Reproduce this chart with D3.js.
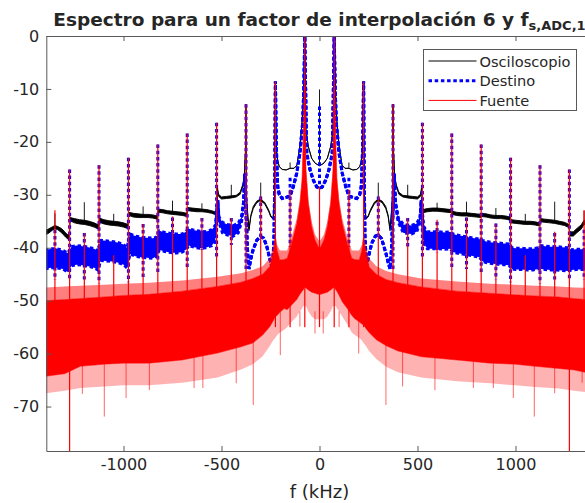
<!DOCTYPE html>
<html lang="es"><head>
<meta charset="utf-8">
<title>Espectro</title>
<script src="https://cdn.jsdelivr.net/npm/d3@7"></script>
<style>
body{margin:0;background:#fff;}
text{font-family:"DejaVu Sans",sans-serif;fill:#262626;}
.axis path,.axis line{stroke:#595959;stroke-width:1;}
</style>
</head>
<body>
<script>

var width = 585;
var height = 503;

var xTicks = [-1000, -500, 0, 500, 1000];
var yTicks = [0, -10, -20, -30, -40, -50, -60, -70];
var seriesNames = ["Osciloscopio", "Destino", "Fuente"];

// Osciloscopio: floor of the trace, [kHz, upper dB, lower dB]
var oscFloor = [
[-1400,-36.8,-37.6],[-1380,-36.4,-37.2],[-1360,-36.0,-36.6],[-1350,-35.8,-36.4],[-1335,-36.0,-36.6],[-1315,-36.4,-37.2],[-1295,-37.2,-38.0],[-1277,-37.8,-38.6],
[-1273,-34.3,-34.9],[-1250,-34.5,-35.3],[-1225,-34.7,-35.5],[-1200,-34.8,-35.6],[-1175,-35.0,-35.8],[-1150,-35.3,-36.1],[-1127,-35.7,-36.5],
[-1123,-34.4,-35.2],[-1100,-34.7,-35.5],[-1075,-34.9,-35.7],[-1050,-35.0,-35.8],[-1025,-35.1,-35.9],[-1000,-35.3,-36.1],[-977,-35.6,-36.4],
[-973,-33.3,-33.9],[-950,-33.5,-34.2],[-925,-33.6,-34.3],[-900,-33.7,-34.3],[-875,-33.7,-34.3],[-850,-33.8,-34.4],[-827,-34.0,-34.6],
[-823,-32.7,-33.3],[-800,-32.8,-33.4],[-775,-33.0,-33.6],[-750,-33.1,-33.7],[-725,-33.2,-33.8],[-700,-33.3,-33.9],[-677,-33.5,-34.1],
[-673,-32.4,-33.0],[-650,-32.5,-33.1],[-625,-32.6,-33.2],[-600,-32.7,-33.2],[-575,-32.8,-33.3],[-550,-33.0,-33.5],[-527,-33.3,-33.8],
[-521,-28.6,-29.0],[-515,-29.9,-30.3],[-500,-30.4,-30.8],[-475,-30.3,-30.7],[-450,-30.2,-30.6],[-425,-30.1,-30.4],[-405,-29.5,-29.9],[-392,-28.1,-28.5],[-384,-26.6,-26.8],[-378,-22.0,-22.0],[-375,-12.9,-12.9],
[-372,-30.8,-31.2],[-360,-36.4,-36.8],[-350,-33.8,-34.1],[-338,-32.2,-32.6],[-320,-31.2,-31.5],[-302,-30.8,-31.1],[-280,-31.4,-31.7],[-260,-32.8,-33.1],[-248,-34.0,-34.2],[-237,-34.4,-34.6],[-229,-31.0,-31.0],[-225,-8.6,-8.6],
[-221,-19.5,-19.5],[-218,-22.1,-22.1],[-212,-23.8,-23.8],[-205,-24.7,-24.7],[-190,-25.2,-25.2],[-170,-25.3,-25.3],[-150,-25.0,-25.0],[-130,-25.0,-25.0],[-115,-24.4,-24.4],[-100,-20.8,-20.8],[-90,-16.8,-16.8],[-83,-12.5,-12.5],[-79,-6.0,-6.0],[-75,0,0],
[-71,-14.0,-14.0],[-69,-17.8,-17.8],[-57,-20.9,-20.9],[-40,-23.1,-23.1],[-23,-24.0,-24.0],[-6,-24.4,-24.4],[0,-24.5,-24.5],[6,-24.4,-24.4],[23,-24.0,-24.0],[40,-23.1,-23.1],[57,-20.9,-20.9],[69,-17.8,-17.8],[71,-14.0,-14.0],[75,0,0],
[79,-6.0,-6.0],[83,-12.5,-12.5],[90,-16.8,-16.8],[100,-20.8,-20.8],[115,-24.4,-24.4],[130,-25.0,-25.0],[150,-25.0,-25.0],[170,-25.3,-25.3],[190,-25.2,-25.2],[205,-24.7,-24.7],[212,-23.8,-23.8],[218,-22.1,-22.1],[221,-19.5,-19.5],[225,-8.6,-8.6],
[229,-31.0,-31.0],[237,-34.4,-34.6],[248,-34.0,-34.2],[260,-32.8,-33.1],[280,-31.4,-31.7],[300,-30.8,-31.1],[320,-31.2,-31.5],[338,-32.2,-32.6],[350,-33.8,-34.1],[360,-36.4,-36.8],[372,-30.8,-31.2],[375,-12.9,-12.9],
[378,-22.0,-22.0],[384,-26.6,-26.8],[392,-28.1,-28.5],[405,-29.5,-29.9],[425,-30.1,-30.4],[450,-30.2,-30.6],[475,-30.3,-30.7],[500,-30.4,-30.8],[515,-29.9,-30.3],[521,-28.6,-29.0],
[527,-32.8,-33.4],[550,-32.6,-33.2],[575,-32.5,-33.1],[600,-32.5,-33.1],[625,-32.6,-33.2],[650,-32.7,-33.3],[673,-32.8,-33.4],
[677,-33.1,-33.7],[700,-33.3,-33.9],[725,-33.4,-34.0],[750,-33.4,-34.0],[775,-33.5,-34.1],[800,-33.6,-34.2],[823,-33.7,-34.3],
[827,-33.5,-34.1],[850,-33.6,-34.2],[875,-33.8,-34.4],[900,-33.9,-34.5],[925,-33.9,-34.5],[950,-34.0,-34.6],[973,-34.2,-34.8],
[977,-34.7,-35.3],[1000,-34.8,-35.4],[1025,-34.9,-35.5],[1050,-35.0,-35.6],[1075,-35.0,-35.6],[1100,-35.1,-35.7],[1123,-35.3,-35.9],
[1127,-34.5,-35.1],[1150,-34.6,-35.2],[1175,-34.7,-35.3],[1200,-34.8,-35.4],[1225,-35.0,-35.6],[1250,-35.2,-35.8],[1273,-35.6,-36.2],
[1277,-37.0,-37.8],[1295,-37.0,-37.8],[1315,-36.3,-37.1],[1335,-35.7,-36.5],[1350,-34.8,-35.6],[1370,-35.0,-35.8],[1400,-35.4,-36.2]
];
var oscSpikeF    = [-1350,-1200,-1050,-900,-750,-600,-450,-300,-150,0,150,300,450,600,750,900,1050,1200,1350];
var oscSpikeTop  = [-33.5,-31.4,-33.6,-32.2,-31.1,-31.6,-28.1,-27.7,-23.9,-10.1,-23.9,-27.7,-28.1,-31.5,-31.3,-32.5,-33.6,-31.3,-33.0];
var oscSpikeBase = [-36.2,-35.4,-35.6,-34.2,-33.6,-33.0,-30.5,-31.0,-25.0,-24.5,-25.0,-31.0,-30.5,-33.0,-33.9,-34.4,-35.5,-35.3,-35.4];

// Destino: [kHz, upper dB, lower dB]
var destFloor = [
[-1400,-40.5,-44.0],[-1370,-40.2,-43.8],[-1340,-40.2,-43.8],[-1310,-40.5,-44.0],[-1285,-41.0,-44.6],
[-1265,-39.8,-43.4],[-1240,-39.6,-43.2],[-1210,-39.7,-43.3],[-1180,-39.9,-43.5],[-1150,-40.2,-43.8],[-1130,-40.6,-44.2],
[-1117,-38.6,-42.4],[-1090,-38.7,-42.5],[-1060,-38.8,-42.6],[-1030,-39.0,-42.8],[-1000,-39.4,-43.2],[-982,-40.0,-43.8],
[-967,-37.4,-41.2],[-940,-37.8,-41.6],[-910,-38.0,-41.8],[-880,-38.1,-41.9],[-850,-38.2,-42.0],[-832,-38.0,-41.6],
[-817,-36.8,-40.4],[-790,-37.1,-40.7],[-760,-37.3,-40.9],[-730,-37.4,-41.0],[-700,-37.4,-40.8],[-682,-37.0,-40.4],
[-667,-36.4,-39.6],[-640,-36.7,-39.9],[-610,-36.9,-40.1],[-580,-37.0,-40.0],[-550,-36.6,-39.6],[-532,-35.8,-38.8],
[-519,-31.0,-31.0],[-513,-34.2,-35.2],[-495,-35.2,-37.2],[-470,-35.6,-37.6],[-440,-35.8,-37.8],[-415,-35.4,-37.2],[-398,-34.2,-35.2],[-388,-31.6,-31.6],[-381,-26.0,-26.0],
[-368,-40.0,-40.0],[-360,-44.0,-44.0],[-350,-42.0,-42.0],[-339,-40.4,-40.4],[-320,-38.6,-38.6],[-302,-37.9,-37.9],[-285,-38.2,-38.2],[-270,-39.6,-39.6],[-252,-42.3,-42.3],[-240,-44.2,-44.2],[-232,-38.0,-38.0],[-228,-26.0,-26.0],[-225,-8.6,-8.6],
[-221,-19.0,-19.0],[-218,-24.0,-24.0],[-213,-28.5,-28.5],[-205,-30.0,-30.0],[-190,-30.7,-30.7],[-170,-30.5,-30.5],[-150,-30.2,-30.2],[-134,-28.5,-28.5],[-116,-25.9,-25.9],[-100,-22.2,-22.2],[-86,-16.5,-16.5],[-80,-10.0,-10.0],[-75,0,0],
[-70,-12.0,-12.0],[-65,-22.2,-22.2],[-48,-25.3,-25.3],[-32,-27.2,-27.2],[-14,-28.5,-28.5],[0,-28.8,-28.8],[14,-28.5,-28.5],[32,-27.2,-27.2],[48,-25.3,-25.3],[65,-22.2,-22.2],[70,-12.0,-12.0],[75,0,0],
[80,-10.0,-10.0],[86,-16.5,-16.5],[100,-22.2,-22.2],[116,-25.9,-25.9],[134,-28.5,-28.5],[150,-30.2,-30.2],[170,-30.5,-30.5],[190,-30.7,-30.7],[205,-30.0,-30.0],[213,-28.5,-28.5],[218,-24.0,-24.0],[221,-19.0,-19.0],[225,-8.6,-8.6],
[228,-26.0,-26.0],[232,-38.0,-38.0],[240,-43.5,-43.5],[250,-41.7,-41.7],[266,-39.2,-39.2],[285,-37.8,-37.8],[300,-37.6,-37.6],[317,-38.3,-38.3],[340,-41.2,-41.2],[351,-42.9,-42.9],[360,-44.0,-44.0],[368,-40.0,-40.0],
[381,-26.0,-26.0],[388,-31.6,-31.6],[402,-34.4,-35.2],[428,-35.6,-37.2],[450,-35.7,-37.3],[470,-35.8,-37.4],[496,-35.4,-37.0],[513,-34.2,-35.2],[519,-31.0,-31.0],
[532,-36.0,-39.2],[550,-37.0,-40.2],[580,-37.0,-40.2],[610,-37.0,-40.2],[640,-37.1,-40.3],[667,-37.0,-40.2],
[682,-37.4,-40.8],[700,-37.6,-41.0],[730,-37.8,-41.2],[760,-38.0,-41.4],[790,-38.2,-41.6],[817,-38.4,-41.8],
[832,-38.6,-42.6],[850,-38.8,-42.8],[880,-39.0,-43.0],[910,-39.1,-43.1],[940,-39.2,-43.2],[967,-39.3,-43.3],
[982,-40.0,-44.0],[1000,-40.1,-44.1],[1030,-40.1,-44.1],[1060,-40.2,-44.2],[1090,-40.2,-44.2],[1117,-40.0,-44.0],
[1130,-39.6,-44.0],[1150,-39.7,-44.1],[1180,-39.8,-44.2],[1210,-39.8,-44.2],[1240,-39.9,-44.3],[1265,-40.0,-44.4],
[1285,-40.4,-44.2],[1310,-40.3,-44.1],[1340,-40.3,-44.1],[1370,-40.4,-44.2],[1400,-40.6,-44.4]
];
var destSpikeF   = [-1350,-1275,-1200,-1125,-975,-900,-825,-750,-675,-600,-525,-450,-375,-300,-150,0,150,300,375,450,525,600,675,750,825,900,975,1125,1200,1275,1350];
var destSpikeTop = [-36.6,-25.2,-37.2,-24.4,-23.0,-35.5,-20.5,-34.3,-18.4,-34.4,-16.4,-34.4,-12.9,-30.3,-26.8,-13.3,-26.8,-30.3,-12.9,-34.4,-16.4,-35.1,-18.4,-34.3,-20.5,-35.4,-23.0,-24.4,-37.2,-25.2,-36.6];
var destSpikeBot = [-46.0,-46.0,-46.0,-46.7,-46.5,-46.0,-45.0,-41.0,-44.0,-40.4,-42.0,-39.5,-44.0,-37.9,-39.8,-28.8,-39.8,-37.6,-44.0,-39.8,-42.0,-41.0,-44.0,-44.0,-45.0,-46.0,-46.5,-46.7,-46.0,-46.0,-46.0];

// Fuente: noise band (dense part hi/lo, sparse fringe top/bot)
var srcF   = [-1400,-1300,-1220,-1100,-1000,-870,-700,-520,-400,-340,-290,-253,-236,-225,-216,-202,-180,-165,-142,-116,-100,-89,-83,-77,-73,-69,-57,-40,-23,-6,
              0,
              6,23,40,57,69,73,77,83,89,100,116,142,165,180,202,216,225,236,253,290,340,400,520,700,870,1000,1100,1220,1300,1400];
var srcHi  = [-50.0,-49.8,-49.6,-49.3,-49.0,-48.8,-48.2,-47.3,-46.5,-45.8,-45.0,-43.5,-41.0,-38.0,-40.5,-42.3,-42.2,-42.0,-39.2,-35.4,-31.6,-27.2,-19.6,-8.0,-10.0,-25.3,-31.6,-36.0,-38.5,-39.8,
              -40.0,
              -39.8,-38.5,-36.0,-31.6,-25.3,-10.0,-8.0,-19.6,-27.2,-31.6,-35.4,-39.2,-42.0,-42.2,-42.3,-40.5,-38.0,-41.0,-43.6,-45.0,-46.0,-46.6,-47.4,-48.2,-48.6,-48.9,-49.1,-49.3,-49.6,-49.9];
var srcLo  = [-64.3,-63.8,-62.4,-62.0,-61.8,-61.8,-61.2,-59.9,-58.7,-58.0,-56.5,-54.9,-53.8,-53.0,-52.8,-52.2,-51.5,-51.7,-50.8,-49.8,-48.8,-48.2,-48.0,-47.5,-47.5,-47.6,-48.0,-48.4,-48.6,-48.8,
              -48.8,
              -48.8,-48.6,-48.4,-48.0,-47.6,-47.5,-47.5,-48.0,-48.2,-49.0,-50.2,-51.5,-52.8,-53.4,-54.0,-54.4,-54.6,-55.2,-56.0,-57.4,-58.5,-59.5,-60.6,-61.2,-61.8,-62.0,-62.4,-62.8,-63.1,-63.9];
var srcTop = [-47.5,-47.3,-47.2,-47.0,-46.8,-46.6,-46.2,-45.5,-44.8,-44.2,-43.5,-42.0,-39.8,-37.5,-39.5,-40.5,-40.5,-40.5,-38.0,-34.5,-31.0,-26.5,-19.0,-8.0,-10.0,-24.5,-31.0,-35.0,-37.5,-38.5,
              -38.8,
              -38.5,-37.5,-35.0,-31.0,-24.5,-10.0,-8.0,-19.0,-26.5,-31.0,-34.5,-38.0,-40.5,-40.5,-40.5,-39.5,-37.5,-39.8,-42.0,-43.5,-44.4,-45.0,-45.8,-46.4,-46.8,-47.0,-47.2,-47.3,-47.5,-47.6];
var srcBot = [-67.5,-67.0,-66.5,-66.2,-66.0,-66.0,-65.5,-64.5,-63.0,-62.0,-60.5,-58.5,-57.5,-57.0,-56.5,-56.0,-55.5,-55.0,-54.0,-53.0,-52.0,-51.5,-51.0,-51.0,-51.0,-51.0,-52.0,-53.0,-53.5,-53.5,
              -53.5,
              -53.5,-53.5,-53.0,-52.0,-51.0,-51.0,-51.0,-51.0,-51.5,-52.0,-53.0,-54.5,-56.0,-56.5,-57.0,-57.5,-58.0,-58.5,-59.5,-61.0,-62.5,-63.5,-64.5,-65.2,-65.6,-66.0,-66.3,-66.6,-67.0,-67.5];
var srcSpikeF   = [-1350,-1275,-1200,-1125,-1050,-975,-900,-825,-750,-675,-600,-525,-450,-375,-300,-225,-150,-75,0,75,150,225,300,375,450,525,600,675,750,825,900,975,1050,1125,1200,1275,1350];
var srcSpikeTop = [-32.9,-25.2,-37.2,-24.4,-41.4,-23.0,-35.5,-20.5,-34.1,-18.4,-34.4,-16.4,-34.4,-12.9,-30.3,-8.6,-29.0,0,-28.5,0,-29.0,-8.6,-30.3,-12.9,-34.4,-16.4,-34.7,-18.4,-34.3,-20.5,-35.4,-23.0,-41.4,-24.4,-37.0,-25.2,-32.9];
var srcSpikeBot = [-55,-80,-55,-55,-55,-55,-55,-55,-55,-55,-55,-55,-55,-55,-55,-55,-55,-55,-55,-55,-55,-55,-55,-55,-55,-55,-55,-55,-55,-55,-55,-55,-55,-55,-55,-80,-55];
var srcNotchF  = [-1210,-1098,-987,-868,-640,-595,-425,-338,-200,-100,-23,19,100,200,339,424,589,785,887,989,1096,1200,1340];
var srcNotchDb = [-67.6,-71.9,-68.4,-66.9,-66.5,-66.5,-65.6,-69.7,-60.3,-54.9,-56.2,-56.2,-55.0,-60.0,-69.7,-66.2,-66.9,-66.5,-66.5,-68.4,-71.9,-67.5,-65.5];

var svg = d3.select("body").append("svg")
  .attr("width", width)
  .attr("height", height);

var x = d3.scaleLinear().domain([-1394, 1394]).range([46.3, 592.7]);
var y = d3.scaleLinear().domain([-78.4, 0]).range([451, 36]);

svg.append("clipPath").attr("id", "plotclip")
  .append("rect").attr("x", 46).attr("y", 36).attr("width", 560).attr("height", 415);

var plot = svg.append("g").attr("clip-path", "url(#plotclip)");

// ---- Osciloscopio (black)
var bandArea = d3.area()
  .x(function(d){ return x(d[0]); })
  .y0(function(d){ return y(d[2]); })
  .y1(function(d){ return y(d[1]); });

plot.append("path").datum(oscFloor)
  .attr("d", bandArea)
  .attr("fill", "#000").attr("stroke", "#000").attr("stroke-width", 0.9);

plot.selectAll(".oscSpike").data(oscSpikeF).enter().append("line")
  .attr("class", "oscSpike")
  .attr("x1", function(d){ return x(d); }).attr("x2", function(d){ return x(d); })
  .attr("y1", function(d, i){ return y(oscSpikeBase[i]); })
  .attr("y2", function(d, i){ return y(oscSpikeTop[i]); })
  .attr("stroke", "#000").attr("stroke-width", 0.9);

// ---- Destino (blue dotted)
plot.append("path").datum(destFloor)
  .attr("d", bandArea)
  .attr("fill", "#0000ff");

var dotted = function(sel){
  sel.attr("fill", "none").attr("stroke", "#0000ff").attr("stroke-width", 3)
    .attr("stroke-dasharray", "3.5,2.7");
};
var edgeLine = function(k){
  return d3.line()
    .x(function(d){ return x(d[0]); })
    .y(function(d){ return y(k < 0 ? (d[1] + d[2]) / 2 : d[k]); });
};
plot.append("path").datum(destFloor).attr("d", edgeLine(1)).call(dotted);
plot.append("path").datum(destFloor).attr("d", edgeLine(2)).call(dotted);
plot.append("path").datum(destFloor).attr("d", edgeLine(-1)).call(dotted);

plot.selectAll(".destSpike").data(destSpikeF).enter().append("line")
  .attr("class", "destSpike")
  .attr("x1", function(d){ return x(d); }).attr("x2", function(d){ return x(d); })
  .attr("y1", function(d, i){ return y(destSpikeTop[i]); })
  .attr("y2", function(d, i){ return y(destSpikeBot[i]); })
  .call(dotted);

// ---- Fuente (red)
var srcRows = srcF.map(function(f, i){ return {f: f, hi: srcHi[i], lo: srcLo[i], top: srcTop[i], bot: srcBot[i]}; });

plot.append("path").datum(srcRows)
  .attr("d", d3.area().x(function(d){ return x(d.f); }).y0(function(d){ return y(d.hi); }).y1(function(d){ return y(d.top); }))
  .attr("fill", "#ff0000").attr("fill-opacity", 0.5);
plot.append("path").datum(srcRows)
  .attr("d", d3.area().x(function(d){ return x(d.f); }).y0(function(d){ return y(d.bot); }).y1(function(d){ return y(d.lo); }))
  .attr("fill", "#ff0000").attr("fill-opacity", 0.3);

plot.selectAll(".srcNotch").data(srcNotchF).enter().append("line")
  .attr("class", "srcNotch")
  .attr("x1", function(d){ return x(d); }).attr("x2", function(d){ return x(d); })
  .attr("y1", y(-52))
  .attr("y2", function(d, i){ return y(srcNotchDb[i]); })
  .attr("stroke", "#ff0000").attr("stroke-opacity", 0.6).attr("stroke-width", 1);

plot.append("path").datum(srcRows)
  .attr("d", d3.area().x(function(d){ return x(d.f); }).y0(function(d){ return y(d.lo); }).y1(function(d){ return y(d.hi); }))
  .attr("fill", "#ff0000").attr("stroke", "#ff0000").attr("stroke-width", 0.5);

plot.selectAll(".srcSpike").data(srcSpikeF).enter().append("line")
  .attr("class", "srcSpike")
  .attr("x1", function(d){ return x(d); }).attr("x2", function(d){ return x(d); })
  .attr("y1", function(d, i){ return y(srcSpikeBot[i]); })
  .attr("y2", function(d, i){ return y(srcSpikeTop[i]); })
  .attr("stroke", "#ff0000").attr("stroke-width", 1.2);

// ---- axes
svg.append("g").attr("class", "axis")
  .attr("transform", "translate(0,451)")
  .call(d3.axisBottom(x).tickValues(xTicks).tickSizeInner(-5).tickSizeOuter(0).tickPadding(8)
        .tickFormat(function(d){ return String(d); }));
svg.append("g").attr("class", "axis")
  .attr("transform", "translate(0,36)")
  .call(d3.axisTop(x).tickValues(xTicks).tickSizeInner(-5).tickSizeOuter(0).tickFormat(""));
svg.append("g").attr("class", "axis")
  .attr("transform", "translate(46.3,0)")
  .call(d3.axisLeft(y).tickValues(yTicks).tickSizeInner(-5).tickSizeOuter(0).tickPadding(7)
        .tickFormat(function(d){ return String(d); }));

svg.selectAll(".axis text").attr("font-size", 16).attr("font-family", "DejaVu Sans").attr("fill", "#262626");

// title
var title = svg.append("text")
  .attr("x", 319.5).attr("y", 26)
  .attr("text-anchor", "middle")
  .attr("font-weight", "bold").attr("font-size", 18.5)
  .attr("fill", "#000");
title.append("tspan").text("Espectro para un factor de interpolación 6 y f");
title.append("tspan").attr("dy", 4).attr("font-size", 13).text("s,ADC,1");

svg.append("text")
  .attr("x", 319.5).attr("y", 498)
  .attr("text-anchor", "middle")
  .attr("font-size", 18)
  .text("f (kHz)");

// legend
var legend = svg.append("g").attr("transform", "translate(423.5,49.5)");
legend.append("rect")
  .attr("width", 153).attr("height", 61)
  .attr("fill", "#fff").attr("stroke", "#595959").attr("stroke-width", 1);

var legendStyle = [
  {color: "#000", w: 1, dash: null},
  {color: "#0000ff", w: 3, dash: "3.5,2.7"},
  {color: "#ff0000", w: 1, dash: null}
];
seriesNames.forEach(function(name, i){
  var ly = 11.5 + i * 19.7;
  legend.append("line")
    .attr("x1", 5).attr("x2", 53).attr("y1", ly).attr("y2", ly)
    .attr("stroke", legendStyle[i].color).attr("stroke-width", legendStyle[i].w)
    .attr("stroke-dasharray", legendStyle[i].dash);
  legend.append("text")
    .attr("x", 56).attr("y", ly + 5.5)
    .attr("font-size", 14.6)
    .text(name);
});

</script>
</body></html>
